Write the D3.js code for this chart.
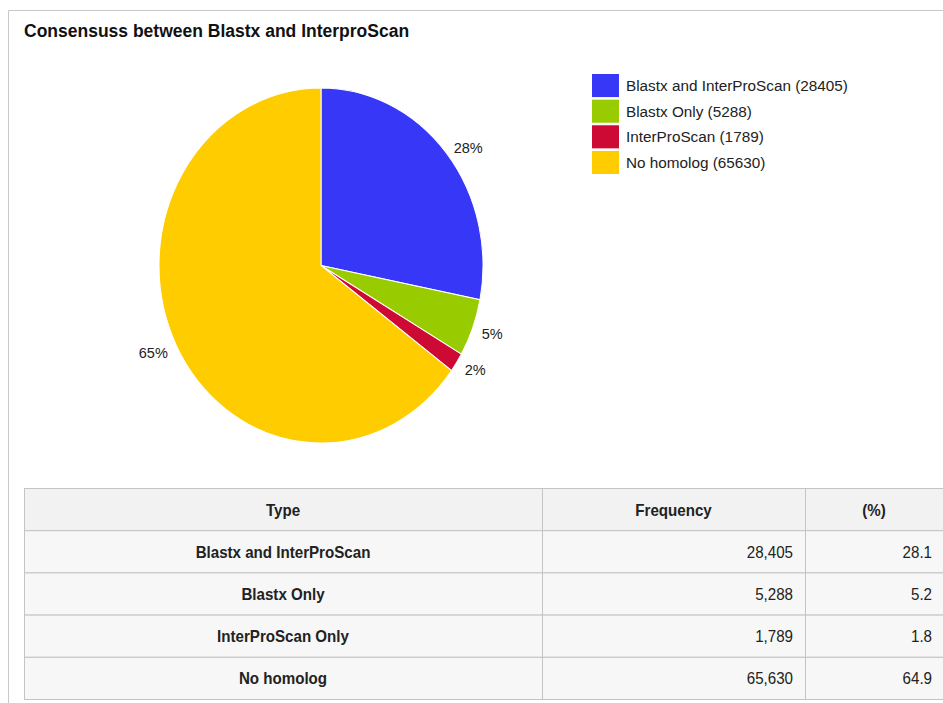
<!DOCTYPE html>
<html>
<head>
<meta charset="utf-8">
<script src="https://cdn.jsdelivr.net/npm/d3@7"></script>
<style>
    body { margin: 0; background: #fff; }
    text { font-family: Arial, "Liberation Sans", sans-serif; }
</style>
</head>
<body>
<div id="chart"></div>
<script>
// chart data
const titleText = 'Consensuss between Blastx and InterproScan'
const legendLabels = ['Blastx and InterProScan (28405)', 'Blastx Only (5288)', 'InterProScan (1789)', 'No homolog (65630)']
const tableTypes = ['Blastx and InterProScan', 'Blastx Only', 'InterProScan Only', 'No homolog']
const counts = [28405, 5288, 1789, 65630]
const colors = ['#3737f7', '#99cc00', '#cc0a33', '#ffcc00']
const tableHeaders = ['Type', 'Frequency', '(%)']

const WIDTH = 943, HEIGHT = 703

const svg = d3.select('#chart').append('svg')
    .attr('width', WIDTH)
    .attr('height', HEIGHT)

// outer frame
svg.append('path')
    .attr('d', `M8.5,${HEIGHT} V10.5 H${WIDTH}`)
    .attr('fill', 'none')
    .attr('stroke', '#c8c8c8')

svg.append('text')
    .attr('x', 24)
    .attr('y', 37)
    .attr('font-size', 17.5)
    .attr('font-weight', 'bold')
    .attr('fill', '#111')
    .text(titleText)

// pie (drawn as circle then stretched vertically like the original)
const total = d3.sum(counts)
const rx = 162, ry = 177.5
const pie = d3.pie().sort(null)
const arcs = pie(counts)
const arc = d3.arc().innerRadius(0).outerRadius(rx)

const pieG = svg.append('g')
    .attr('transform', `translate(321, 265.5) scale(1, ${ry / rx})`)

pieG.selectAll('path')
    .data(arcs)
    .join('path')
    .attr('d', arc)
    .attr('fill', (d, i) => colors[i])
    .attr('stroke', '#fff')
    .attr('stroke-width', 1)

const labelG = svg.append('g').attr('transform', 'translate(321, 265.5)')
labelG.selectAll('text')
    .data(arcs)
    .join('text')
    .attr('x', d => Math.sin((d.startAngle + d.endAngle) / 2) * rx * 1.06)
    .attr('y', d => -Math.cos((d.startAngle + d.endAngle) / 2) * ry * 1.06 + 2)
    .attr('dy', '0.35em')
    .attr('text-anchor', d => Math.sin((d.startAngle + d.endAngle) / 2) >= 0 ? 'start' : 'end')
    .attr('font-size', 14.5)
    .attr('fill', '#222')
    .text(d => Math.round(d.data / total * 100) + '%')

// legend
const legendY = d3.scaleBand().domain(d3.range(legendLabels.length)).range([74, 174]).paddingInner(0.1)
const legend = svg.append('g')
legend.selectAll('rect')
    .data(legendLabels)
    .join('rect')
    .attr('x', 592)
    .attr('y', (d, i) => legendY(i))
    .attr('width', 27)
    .attr('height', legendY.bandwidth())
    .attr('fill', (d, i) => colors[i])
legend.selectAll('text')
    .data(legendLabels)
    .join('text')
    .attr('x', 626)
    .attr('y', (d, i) => legendY(i) + legendY.bandwidth() / 2)
    .attr('dy', '0.35em')
    .attr('font-size', 15.3)
    .attr('fill', '#222')
    .text(d => d)

// table
const colEdges = [24, 542, 805, WIDTH]
const rowY = d3.scaleBand().domain(d3.range(tableTypes.length + 1)).range([488.5, 699.5])
const table = svg.append('g')

table.selectAll('rect.row')
    .data(d3.range(tableTypes.length + 1))
    .join('rect')
    .attr('class', 'row')
    .attr('x', colEdges[0] + 0.5)
    .attr('y', d => rowY(d))
    .attr('width', WIDTH - colEdges[0])
    .attr('height', rowY.bandwidth())
    .attr('fill', d => d === 0 ? '#f2f2f2' : '#f7f7f7')
    .attr('stroke', '#c4c4c4')

table.selectAll('line.col')
    .data(colEdges.slice(1, 3))
    .join('line')
    .attr('class', 'col')
    .attr('x1', d => d + 0.5)
    .attr('x2', d => d + 0.5)
    .attr('y1', rowY(0))
    .attr('y2', rowY(tableTypes.length) + rowY.bandwidth())
    .attr('stroke', '#c4c4c4')

const cellText = (x, y, txt, anchor, bold) => {
    table.append('text')
        .attr('transform', `translate(${x}, ${y}) scale(0.89, 1)`)
        .attr('dy', '0.35em')
        .attr('text-anchor', anchor)
        .attr('font-size', 17)
        .attr('font-weight', bold ? 'bold' : 'normal')
        .attr('fill', '#222')
        .text(txt)
}

const mid = (a, b) => (a + b) / 2
tableHeaders.forEach((h, i) => {
    cellText(mid(colEdges[i], colEdges[i + 1]), rowY(0) + rowY.bandwidth() / 2, h, 'middle', true)
})

tableTypes.forEach((t, i) => {
    const y = rowY(i + 1) + rowY.bandwidth() / 2
    cellText(mid(colEdges[0], colEdges[1]), y, t, 'middle', true)
    cellText(colEdges[2] - 12, y, d3.format(',')(counts[i]), 'end', false)
    cellText(colEdges[3] - 11, y, (counts[i] / total * 100).toFixed(1), 'end', false)
})
</script>
</body>
</html>
